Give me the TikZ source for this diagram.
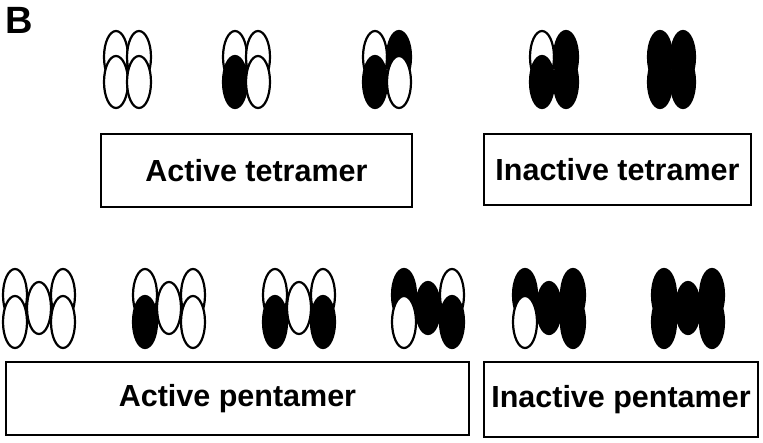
\documentclass[tikz,border=0pt]{standalone}
\usepackage{fontspec}
\setmainfont{Liberation Sans}
\usetikzlibrary{shapes.geometric}
\begin{document}
\begin{tikzpicture}[x=1pt,y=-1pt,
  ell/.style={ellipse,draw=black,line width=2.2pt,minimum width=24pt,minimum height=52pt,inner sep=0pt},
  W/.style={ell,fill=white}, K/.style={ell,fill=black},
  lab/.style={draw=black,line width=1.3pt,font=\bfseries\fontsize{30.5}{32}\selectfont,inner sep=0pt}]
\useasboundingbox (0,0) rectangle (763,442);
\node[font=\bfseries\fontsize{38}{38}\selectfont,anchor=north west,inner sep=0pt] (B) at (5,7) {B};
% tetramers: top y=57, bottom y=82
\foreach \n/\a/\b/\c/\d/\xa/\xb in {1/W/W/W/W/116/139, 2/W/W/K/W/235/258, 3/W/K/K/W/375/399, 4/W/K/K/K/542/566, 5/K/K/K/K/660/683}{
  \node[\a] (t\n a) at (\xa,57) {};
  \node[\b] (t\n b) at (\xb,57) {};
  \node[\c] (t\n c) at (\xa,82) {};
  \node[\d] (t\n d) at (\xb,82) {};
}
% pentamers: top y=295, bottom y=322, middle y=308
\foreach \n/\a/\b/\c/\d/\m/\xa/\xm/\xb in {1/W/W/W/W/W/15/39/63, 2/W/W/K/W/W/145/169/193, 3/W/W/K/K/W/275/299/323, 4/K/W/W/K/K/404/428/452, 5/K/K/W/K/K/525/549/573, 6/K/K/K/K/K/664/688/712}{
  \node[\a] (p\n a) at (\xa,295) {};
  \node[\b] (p\n b) at (\xb,295) {};
  \node[\c] (p\n c) at (\xa,322) {};
  \node[\d] (p\n d) at (\xb,322) {};
  \node[\m] (p\n m) at (\xm,308) {};
}
\node[lab,minimum width=311pt,minimum height=73pt] (at) at (256.5,170.5) {Active tetramer};
\node[lab,minimum width=267pt,minimum height=71pt] (it) at (617.5,169.5) {Inactive tetramer};
\node[lab,minimum width=463pt,minimum height=73pt] (ap) at (237.5,398.5) {Active pentamer};
\node[lab,minimum width=274pt,minimum height=75pt] (ip) at (621,399.5) {Inactive pentamer};
\end{tikzpicture}
\end{document}
